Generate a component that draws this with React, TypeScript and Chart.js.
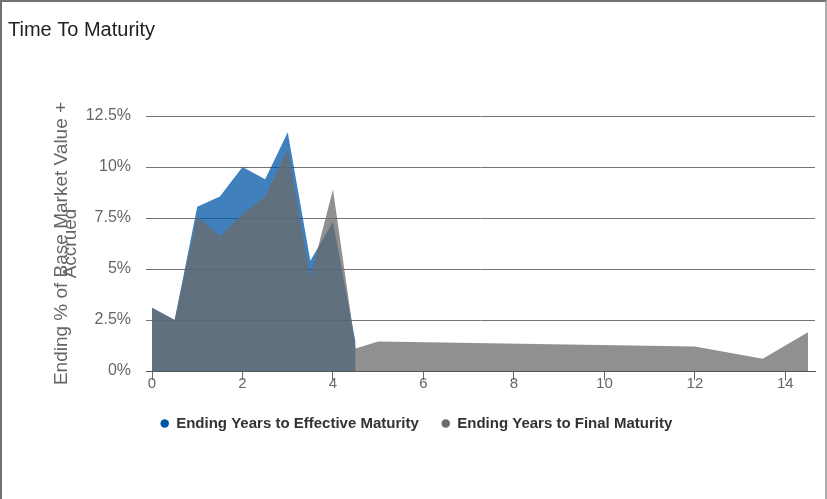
import { useEffect, useRef } from "react";
import { Chart, registerables } from "chart.js";

Chart.register(...registerables);

// Ending years (x) and share of base market value + accrued, in % (y)
const effectiveYears = [0, 0.5, 1, 1.5, 2, 2.5, 3, 3.5, 4, 4.5];
const effectivePct = [3.1, 2.5, 8.05, 8.55, 10.0, 9.4, 11.7, 5.4, 7.3, 1.4];

const finalYears = [0, 0.5, 1, 1.5, 2, 2.5, 3, 3.5, 4, 4.5, 5, 12, 13.5, 14.5];
const finalPct = [3.1, 2.5, 7.6, 6.6, 7.7, 8.55, 10.85, 4.6, 8.9, 1.1, 1.45, 1.2, 0.6, 1.9];

const xTickValues = [0, 2, 4, 6, 8, 10, 12, 14];
const yTickValues = [0, 2.5, 5, 7.5, 10, 12.5];

const seriesNames = ["Ending Years to Effective Maturity", "Ending Years to Final Maturity"];
const seriesColors = ["rgb(0, 85, 165)", "rgb(107, 107, 107)"];
const seriesFills = ["rgba(0, 85, 165, 0.75)", "rgba(107, 107, 107, 0.75)"];

const chartTitle = "Time To Maturity";
const yAxisTitle = ["Ending % of Base Market Value +", "Accrued"];

const FONT = "'Liberation Sans', Arial, Helvetica, sans-serif";

const toPoints = (xs: number[], ys: number[]) => xs.map((x, i) => ({ x, y: ys[i] }));

// Nudges the centred legend row a few pixels to the right
const legendNudge = {
  id: "legendNudge",
  afterLayout(chart: any) {
    const lg = chart.legend;
    if (lg) {
      lg.left += 5;
      lg.right += 5;
    }
  },
};

export default function App() {
  const canvasRef = useRef<HTMLCanvasElement | null>(null);

  useEffect(() => {
    const canvas = canvasRef.current;
    if (!canvas) return;

    const makeDataset = (i: number, xs: number[], ys: number[], order: number) => ({
      label: seriesNames[i],
      data: toPoints(xs, ys),
      fill: "origin",
      backgroundColor: seriesFills[i],
      borderColor: "transparent",
      borderWidth: 1,
      pointRadius: 0,
      pointHoverRadius: 0,
      pointBackgroundColor: seriesColors[i],
      pointBorderWidth: 0,
      tension: 0,
      order,
    });

    const chart = new Chart(canvas, {
      type: "line",
      data: {
        datasets: [
          makeDataset(0, effectiveYears, effectivePct, 1),
          makeDataset(1, finalYears, finalPct, 0),
        ] as any,
      },
      plugins: [legendNudge],
      options: {
        responsive: false,
        animation: false,
        devicePixelRatio: 1,
        layout: { padding: { left: 8, right: 12, top: 0, bottom: 58 } },
        plugins: {
          tooltip: { enabled: false },
          title: {
            display: true,
            text: chartTitle,
            align: "start",
            color: "#222",
            font: { family: FONT, size: 20, weight: "normal", lineHeight: 1.2 },
            padding: { top: 18, bottom: 74 },
          },
          legend: {
            display: true,
            position: "bottom",
            align: "center",
            labels: {
              usePointStyle: true,
              pointStyle: "circle",
              boxWidth: 8,
              boxHeight: 6,
              padding: 23,
              color: "#333",
              font: { family: FONT, size: 15, weight: "bold" },
              sort: (a: any, b: any) => a.datasetIndex - b.datasetIndex,
            },
          },
        },
        scales: {
          x: {
            type: "linear",
            min: -0.133,
            max: 14.655,
            z: 1,
            afterBuildTicks: (scale: any) => {
              scale.ticks = xTickValues.map((value) => ({ value }));
            },
            afterFit: (scale: any) => {
              scale.height = 22;
            },
            grid: { drawOnChartArea: false, drawTicks: true, tickLength: 9, color: "#666" },
            border: { display: true, color: "#555" },
            ticks: {
              padding: -5,
              color: "#666",
              autoSkip: false,
              maxRotation: 0,
              font: { family: FONT, size: 15 },
              callback: (v: any) => String(v),
            },
          },
          y: {
            min: 0,
            max: 12.5,
            z: 1,
            afterBuildTicks: (scale: any) => {
              scale.ticks = yTickValues.map((value) => ({ value }));
            },
            afterFit: (scale: any) => {
              scale.width = 138;
            },
            grid: { color: "#737373", drawTicks: false },
            border: { display: false },
            ticks: {
              padding: 15,
              color: "#666",
              font: { family: FONT, size: 16 },
              callback: (v: any) => `${v}%`,
            },
            title: {
              display: true,
              text: yAxisTitle,
              color: "#666",
              font: { family: FONT, size: 19, lineHeight: 0.47 },
              padding: { top: 49, bottom: 0 },
            },
          },
        },
      } as any,
    });

    return () => chart.destroy();
  }, []);

  return (
    <div
      style={{
        position: "fixed",
        left: 0,
        top: 0,
        width: 827,
        height: 499,
        background: "#fff",
      }}
    >
      <canvas ref={canvasRef} width={827} height={499} style={{ display: "block" }} />
      <div
        style={{
          position: "absolute",
          inset: 0,
          borderTop: "2px solid #727272",
          borderLeft: "2px solid #727272",
          borderRight: "2px solid #acacac",
          pointerEvents: "none",
        }}
      />
    </div>
  );
}
